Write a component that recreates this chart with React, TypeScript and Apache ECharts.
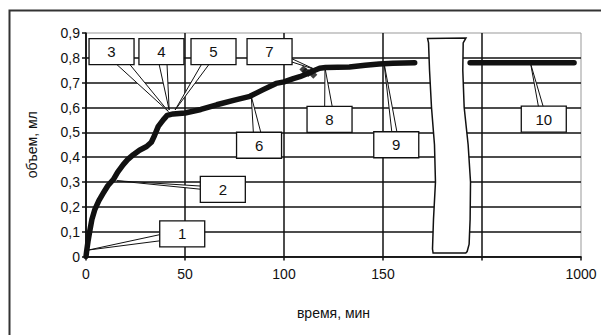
import React, { useEffect, useRef } from "react";
import * as echarts from "echarts";

// main curve (time, min ; volume, ml)
const MAIN_X = [0, 0.3, 1, 2, 3, 4.5, 6.5, 8.7, 11, 13.8, 16, 18.8, 21, 23.9, 27, 30.6, 33, 34.5, 36.5, 39, 41, 44, 50, 58, 66, 75, 82.8, 89.5, 96, 100, 104.7, 108, 112, 115, 118, 121, 133, 141, 148, 155, 166];
const MAIN_Y = [0, 0.02, 0.06, 0.107, 0.15, 0.19, 0.225, 0.255, 0.285, 0.31, 0.34, 0.37, 0.39, 0.41, 0.428, 0.443, 0.46, 0.485, 0.524, 0.55, 0.568, 0.574, 0.578, 0.592, 0.611, 0.63, 0.645, 0.672, 0.697, 0.703, 0.716, 0.724, 0.737, 0.748, 0.758, 0.761, 0.763, 0.77, 0.775, 0.778, 0.78];
// scattered points near the turn
const CLUSTER_X = [109.8, 112.3, 114.8, 114, 111];
const CLUSTER_Y = [0.753, 0.739, 0.732, 0.746, 0.745];
// segment after the axis break (time ≈ 1000 min)
const LATE_X = [194, 246.5];
const LATE_Y = [0.78, 0.78];

const X_LABELS = ["0", "50", "100", "150", "", "1000"];

// axis break outline (in axis units)
const BREAK_X = [172.5, 191.9, 190.5, 190.3, 191, 193, 194.2, 194, 193.5, 192.5, 191.8, 175.3, 175, 175.5, 176.5, 176, 174.5, 173.5, 173];
const BREAK_Y = [0.878, 0.88, 0.86, 0.75, 0.6, 0.45, 0.3, 0.15, 0.05, 0.02, 0.014, 0.014, 0.03, 0.15, 0.3, 0.45, 0.6, 0.75, 0.86];

// callouts
const CALLOUT_LABELS = ["1", "2", "3", "4", "5", "6", "7", "8", "9", "10"];
const CALLOUT_BOX_X = [48.6, 69.1, 12.9, 38.1, 64.4, 87.4, 92.7, 123, 156.7, 231.2];
const CALLOUT_BOX_Y = [0.091, 0.27, 0.825, 0.825, 0.825, 0.448, 0.825, 0.552, 0.45, 0.553];
const CALLOUT_TGT_X = [1.2, 15.5, 41.6, 42, 45, 83.5, 115.7, 120.7, 150.5, 224.6];
const CALLOUT_TGT_Y = [0.026, 0.305, 0.584, 0.59, 0.59, 0.644, 0.753, 0.76, 0.78, 0.775];
const CALLOUT_WEDGE = [4, 2, 6, 5, 4, 5, 3, 5, 3, 3];

const FONT = '"Liberation Sans", Arial, sans-serif';

export default function App() {
  const ref = useRef<HTMLDivElement>(null);
  useEffect(() => {
    const chart = echarts.init(ref.current!, null, { renderer: "svg" });
    const BOX_W = 45;
    const BOX_H = 26;
    chart.setOption({
      animation: false,
      backgroundColor: "#fff",
      grid: { left: 86, top: 33, right: 20, bottom: 78.5, show: true, borderColor: "#999", borderWidth: 1 },
      graphic: [
        {
          type: "rect",
          left: 7,
          top: 8,
          shape: { x: 0, y: 0, width: 620, height: 360 },
          style: { fill: "none", stroke: "#333", lineWidth: 2 },
          silent: true,
        },
      ],
      xAxis: {
        type: "value",
        min: 0,
        max: 250,
        interval: 50,
        name: "время, мин",
        nameLocation: "middle",
        nameGap: 49,
        nameTextStyle: { fontSize: 14, fontFamily: FONT, color: "#111" },
        axisLine: { show: true, lineStyle: { color: "#111", width: 1.5 } },
        axisTick: { show: true, length: 4, lineStyle: { color: "#111", width: 1.5 } },
        axisLabel: {
          fontSize: 14,
          fontFamily: FONT,
          color: "#111",
          margin: 10,
          formatter: (v: number) => X_LABELS[Math.round(v / 50)] ?? "",
        },
        splitLine: { show: true, showMaxLine: false, lineStyle: { color: "#111", width: 1.5 } },
      },
      yAxis: {
        type: "value",
        min: 0,
        max: 0.9,
        interval: 0.1,
        name: "объем, мл",
        nameLocation: "middle",
        nameRotate: 90,
        nameGap: 47,
        nameTextStyle: { fontSize: 14, fontFamily: FONT, color: "#111" },
        axisLine: { show: true, lineStyle: { color: "#111", width: 1.5 } },
        axisTick: { show: true, length: 4, lineStyle: { color: "#111", width: 1.5 } },
        axisLabel: {
          fontSize: 14,
          fontFamily: FONT,
          color: "#111",
          margin: 6,
          formatter: (v: number) => (v === 0 ? "0" : v.toFixed(1).replace(".", ",")),
        },
        splitLine: { show: true, showMaxLine: false, lineStyle: { color: "#111", width: 1.5 } },
      },
      series: [
        {
          type: "line",
          data: MAIN_X.map((x, i) => [x, MAIN_Y[i]]),
          symbol: "none",
          smooth: false,
          lineStyle: { color: "#111", width: 5.5, cap: "round", join: "round" },
          z: 3,
        },
        {
          type: "scatter",
          data: CLUSTER_X.map((x, i) => [x, CLUSTER_Y[i]]),
          symbol: "diamond",
          symbolSize: 8,
          itemStyle: { color: "#111" },
          z: 3,
        },
        {
          type: "line",
          data: LATE_X.map((x, i) => [x, LATE_Y[i]]),
          symbol: "none",
          lineStyle: { color: "#111", width: 5.5, cap: "round" },
          z: 3,
        },
        {
          type: "custom",
          data: [[180, 0.5]],
          z: 4,
          clip: false,
          renderItem: (_params: any, api: any) => ({
            type: "polygon",
            shape: { points: BREAK_X.map((x, i) => api.coord([x, BREAK_Y[i]])) },
            style: { fill: "#fff", stroke: "#111", lineWidth: 1.5 },
          }),
        },
        {
          type: "custom",
          data: CALLOUT_BOX_X.map((x, i) => [x, CALLOUT_BOX_Y[i], CALLOUT_TGT_X[i], CALLOUT_TGT_Y[i]]),
          z: 5,
          clip: false,
          renderItem: (params: any, api: any) => {
            const i = params.dataIndex;
            const b = api.coord([api.value(0), api.value(1)]);
            const t = api.coord([api.value(2), api.value(3)]);
            const dx = t[0] - b[0];
            const dy = t[1] - b[1];
            const len = Math.sqrt(dx * dx + dy * dy) || 1;
            const px = -dy / len;
            const py = dx / len;
            const w = CALLOUT_WEDGE[i];
            return {
              type: "group",
              children: [
                {
                  type: "polygon",
                  shape: {
                    points: [
                      [b[0] + px * w, b[1] + py * w],
                      [b[0] - px * w, b[1] - py * w],
                      t,
                    ],
                  },
                  style: { fill: "#fff", stroke: "#111", lineWidth: 1 },
                },
                {
                  type: "rect",
                  shape: { x: b[0] - BOX_W / 2, y: b[1] - BOX_H / 2, width: BOX_W, height: BOX_H },
                  style: { fill: "#fff", stroke: "#111", lineWidth: 1.3 },
                },
                {
                  type: "text",
                  style: {
                    text: CALLOUT_LABELS[i],
                    x: b[0],
                    y: b[1],
                    align: "center",
                    verticalAlign: "middle",
                    font: `15px ${FONT}`,
                    fill: "#111",
                  },
                },
              ],
            };
          },
        },
      ],
    });
    return () => chart.dispose();
  }, []);
  return <div ref={ref} style={{ position: "fixed", left: 0, top: 0, width: 601, height: 335 }} />;
}
